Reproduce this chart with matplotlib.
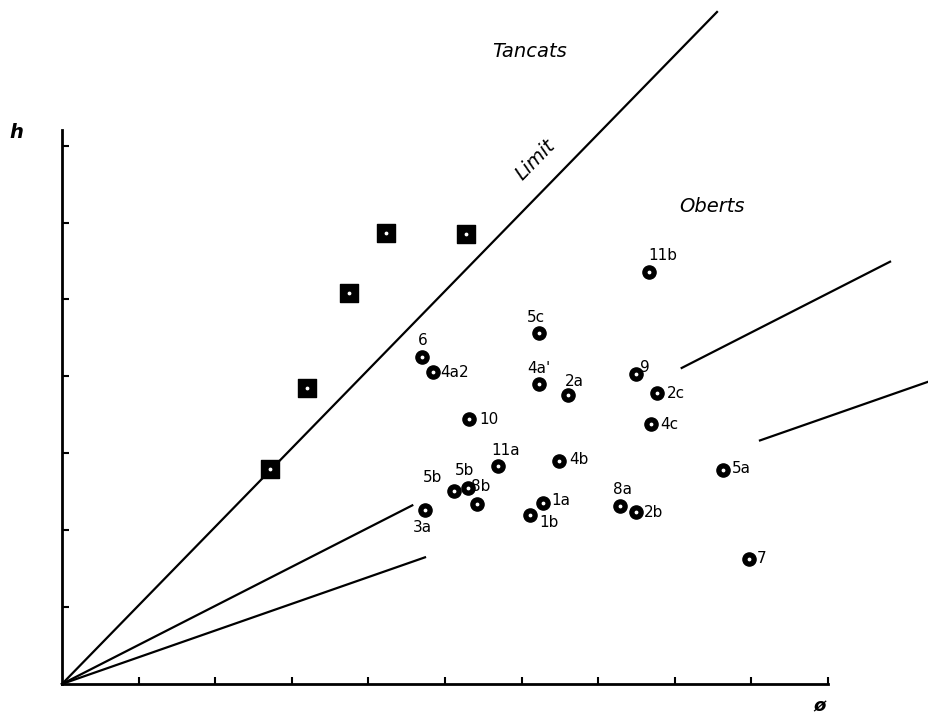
import matplotlib
matplotlib.use("Agg")
import matplotlib.pyplot as plt
import numpy as np

# ---- data (axis units: one tick = 1) ----
sq_x = [2.715, 3.202, 3.743, 4.234, 5.270]
sq_y = [2.792, 3.853, 5.088, 5.861, 5.852]

pt_labels = ["11b", "5c", "6", "4a2", "4a'", "2a", "9", "2c", "10", "4c",
             "11a", "4b", "5a", "5b", "5b", "8b", "3a", "1a", "1b", "8a", "2b", "7"]
pt_x = [7.667, 6.223, 4.700, 4.839, 6.227, 6.602, 7.493, 7.764, 5.317, 7.685,
        5.688, 6.492, 8.625, 5.121, 5.304, 5.422, 4.739, 6.283, 6.110, 7.288, 7.490, 8.965]
pt_y = [5.354, 4.560, 4.248, 4.057, 3.897, 3.754, 4.031, 3.780, 3.442, 3.381,
        2.835, 2.904, 2.787, 2.510, 2.545, 2.345, 2.267, 2.358, 2.194, 2.319, 2.237, 1.625]

limit_slope = 1.022
limit_xend = 8.551
line_a_slope = 0.508
line_a_segs = [(0.0, 4.573), (8.090, 10.81)]
line_b_slope = 0.3476
line_b_segs = [(0.0, 4.739), (9.112, 11.31)]

x_ticks = [1, 2, 3, 4, 5, 6, 7, 8, 9, 10]
y_ticks = [1, 2, 3, 4, 5, 6, 7]

# label offsets in pixels (dx, dy, ha)
offsets = {
    0: (14, 17, "center"), 1: (-3, 16, "center"), 2: (1, 17, "center"),
    3: (8, 0, "left"), 4: (0, 16, "center"), 5: (7, 14, "center"),
    6: (9, 7, "center"), 7: (10, 0, "left"), 8: (10, 0, "left"),
    9: (10, 0, "left"), 10: (8, 15, "center"), 11: (10, 1, "left"),
    12: (9, 1, "left"), 13: (-22, 13, "center"), 14: (-4, 18, "center"),
    15: (3, 17, "center"), 16: (-3, -18, "center"), 17: (8, 2, "left"),
    18: (9, -7, "left"), 19: (2, 16, "center"), 20: (8, -1, "left"),
    21: (8, 1, "left"),
}

fig = plt.figure(figsize=(9.29, 7.17), dpi=100)
ax = fig.add_axes([0, 0, 1, 1])
sx, sy = 76.6, 76.9
ax.set_xlim(-62 / sx, 867 / sx)
ax.set_ylim(-33 / sy, 684 / sy)

for s in ["top", "right"]:
    ax.spines[s].set_visible(False)
ax.spines["left"].set_position(("data", 0))
ax.spines["bottom"].set_position(("data", 0))
ax.spines["left"].set_bounds(0, 7.2)
ax.spines["bottom"].set_bounds(0, 10)
ax.spines["left"].set_linewidth(2)
ax.spines["bottom"].set_linewidth(2)
ax.set_xticks(x_ticks)
ax.set_yticks(y_ticks)
ax.tick_params(direction="in", length=5, width=1.5, labelbottom=False, labelleft=False)

# lines
ax.plot([0, limit_xend], [0, limit_slope * limit_xend], color="black", lw=1.6, clip_on=False)
for a, b in line_a_segs:
    ax.plot([a, b], [line_a_slope * a, line_a_slope * b], color="black", lw=1.6, clip_on=False)
for a, b in line_b_segs:
    ax.plot([a, b], [line_b_slope * a, line_b_slope * b], color="black", lw=1.6, clip_on=False)

# markers
ax.scatter(sq_x, sq_y, marker="s", s=150, color="black", zorder=3)
ax.scatter(sq_x, sq_y, marker="o", s=3, color="white", zorder=4)
ax.scatter(pt_x, pt_y, marker="o", s=90, color="black", zorder=3)
ax.scatter(pt_x, pt_y, marker="o", s=3, color="white", zorder=4)

for i, (lab, x, y) in enumerate(zip(pt_labels, pt_x, pt_y)):
    dx, dy, ha = offsets[i]
    ax.annotate(lab, (x, y), xytext=(dx, dy), textcoords="offset pixels",
                ha=ha, va="center", fontsize=11)

# region texts
ax.text((530 - 62) / sx, (684 - 52) / sy, "Tancats", fontsize=14, style="italic",
        ha="center", va="center")
ax.text((712 - 62) / sx, (684 - 207) / sy, "Oberts", fontsize=14, style="italic",
        ha="center", va="center")
ax.text((535 - 62) / sx, (684 - 160) / sy, "Limit", fontsize=14, style="italic",
        ha="center", va="center", rotation=45.7, rotation_mode="anchor")
ax.text((16 - 62) / sx, (684 - 133) / sy, "h", fontsize=14, style="italic",
        fontweight="bold", ha="center", va="center")
ax.text((820 - 62) / sx, (684 - 706) / sy, "ø", fontsize=13, style="italic",
        fontweight="bold", ha="center", va="center")

fig.savefig("out.png", dpi=100)
